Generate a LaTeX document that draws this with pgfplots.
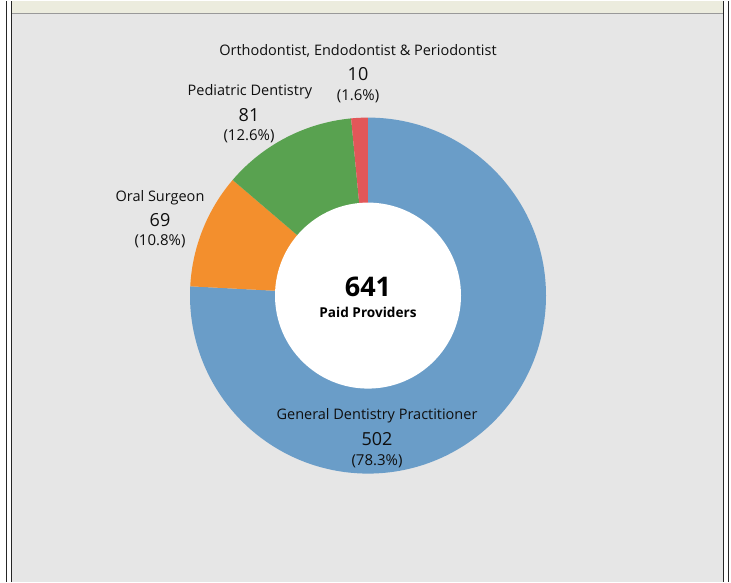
\documentclass[border=0pt]{standalone}
\usepackage{pgfplots}
\usepackage{pgfplotstable}
\pgfplotsset{compat=1.18}
\usepackage{fontspec}
\setmainfont{Open Sans}

\definecolor{tabblue}{RGB}{106,157,200}
\definecolor{taborange}{RGB}{243,143,45}
\definecolor{tabgreen}{RGB}{89,162,80}
\definecolor{tabred}{RGB}{226,87,89}
\definecolor{panel}{RGB}{230,230,230}
\definecolor{strip}{RGB}{236,236,222}
\definecolor{txt}{RGB}{15,15,15}

% provider counts, clockwise from 12 o'clock
\pgfplotstableread[col sep=comma]{
value,color
502,tabblue
69,taborange
81,tabgreen
10,tabred
}\donut

\begin{document}
\begin{tikzpicture}
\begin{axis}[
  hide axis, scale only axis,
  width=731pt, height=581pt,
  xmin=0, xmax=731, ymin=0, ymax=581,
  clip=false]

  % frame and background
  \fill[white] (axis cs:0,0) rectangle (axis cs:731,581);
  \fill[strip] (axis cs:12,569) rectangle (axis cs:723,581);
  \fill[panel] (axis cs:12,0) rectangle (axis cs:723,568);
  \draw[gray!80, line width=1pt] (axis cs:12,568.5) -- (axis cs:723,568.5);
  \draw[black!85, line width=1.2pt] (axis cs:6.8,0) -- (axis cs:6.8,581);
  \draw[black!85, line width=1.2pt] (axis cs:11.6,0) -- (axis cs:11.6,581);
  \draw[black!85, line width=1.2pt] (axis cs:723.6,0) -- (axis cs:723.6,581);
  \draw[black!85, line width=1.2pt] (axis cs:728.4,0) -- (axis cs:728.4,581);

  % donut sectors
  \pgfplotstablegetrowsof{\donut}
  \pgfmathtruncatemacro\lastrow{\pgfplotsretval-1}
  \def\total{0}
  \pgfplotsforeachungrouped \i in {0,...,\lastrow}{%
    \pgfplotstablegetelem{\i}{value}\of\donut
    \pgfmathsetmacro\total{\total+\pgfplotsretval}%
  }
  \def\cum{90}
  \pgfplotsforeachungrouped \i in {0,...,\lastrow}{%
    \pgfplotstablegetelem{\i}{value}\of\donut \let\v\pgfplotsretval
    \pgfplotstablegetelem{\i}{color}\of\donut \let\c\pgfplotsretval
    \pgfmathsetmacro\dlt{-\v/\total*360}%
    \edef\temp{\noexpand\fill[\c] (axis cs:368,286) -- ++(\cum:178pt)
      arc[start angle=\cum, delta angle=\dlt, radius=178pt] -- cycle;}%
    \temp
    \pgfmathsetmacro\cum{\cum+\dlt}%
  }
  \fill[white] (axis cs:368,286) circle[radius=93pt];

  % labels
  \tikzset{lab/.style={text=txt, inner sep=0pt, anchor=center}}
  \def\fl{\fontsize{14.5}{16}\selectfont}
  \def\fn{\fontsize{18}{20}\selectfont}
  \def\fp{\fontsize{15}{17}\selectfont}
  \node[lab, font=\fl] at (axis cs:358,531) {Orthodontist, Endodontist \& Periodontist};
  \node[lab, font=\fn] at (axis cs:358,508) {10};
  \node[lab, font=\fp] at (axis cs:358,485) {(1.6\%)};

  \node[lab, font=\fl] at (axis cs:250,490) {Pediatric Dentistry};
  \node[lab, font=\fn] at (axis cs:249,467) {81};
  \node[lab, font=\fp] at (axis cs:249,445) {(12.6\%)};

  \node[lab, font=\fl] at (axis cs:160,384) {Oral Surgeon};
  \node[lab, font=\fn] at (axis cs:160,362) {69};
  \node[lab, font=\fp] at (axis cs:160,340) {(10.8\%)};

  \node[lab, font=\fontsize{27}{30}\selectfont\bfseries, text=black] at (axis cs:368,295) {641};
  \node[lab, font=\fontsize{13.6}{15}\selectfont\bfseries, text=black] at (axis cs:368,269) {Paid Providers};

  \node[lab, font=\fl] at (axis cs:377,166) {General Dentistry Practitioner};
  \node[lab, font=\fn] at (axis cs:377,143) {502};
  \node[lab, font=\fp] at (axis cs:377,120) {(78.3\%)};
\end{axis}
\end{tikzpicture}
\end{document}
